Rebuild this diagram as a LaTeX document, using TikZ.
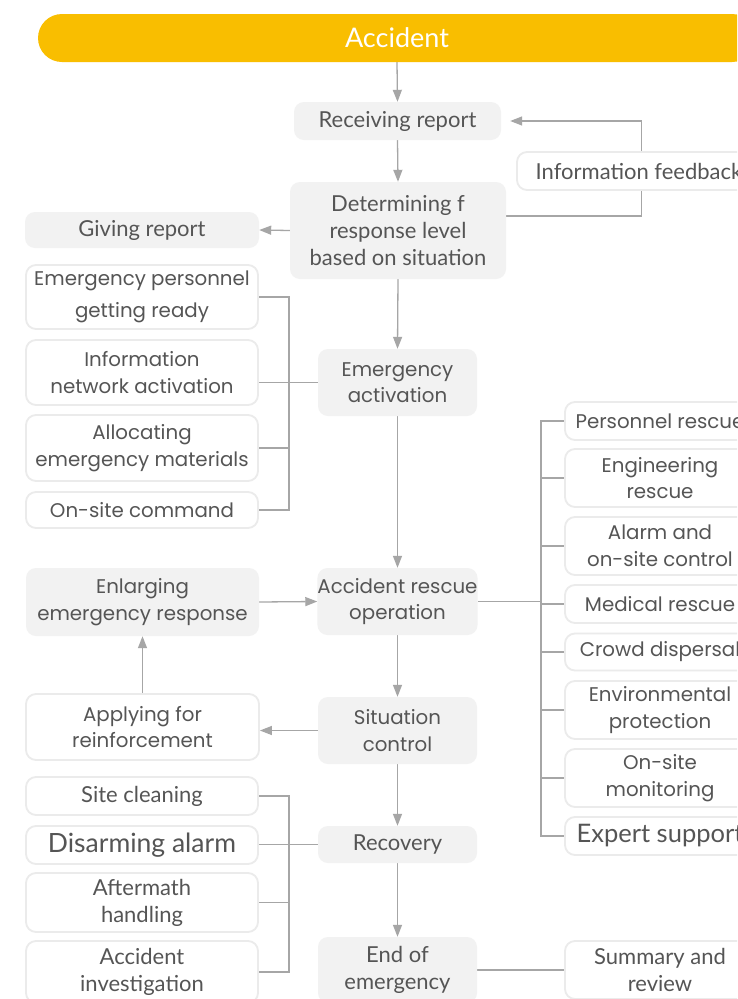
\documentclass[tikz,border=0pt]{standalone}
\usepackage{fontspec}
\usetikzlibrary{arrows.meta,calc}
\newfontfamily\fmont{Poppins}
\newfontfamily\fcond{Lato}
\definecolor{accy}{HTML}{F9BE00}
\definecolor{boxg}{HTML}{F2F2F2}
\definecolor{bord}{HTML}{EBEBEB}
\definecolor{lineg}{HTML}{A6A6A6}
\definecolor{txt}{HTML}{555555}
\pgfdeclarelayer{bottom}
\pgfdeclarelayer{bg}
\pgfsetlayers{bottom,bg,main}
\tikzset{
  gbox/.style={fill=boxg, draw=none, rounded corners=10pt, text=txt, inner sep=0pt, align=center},
  wbox/.style={fill=white, draw=bord, line width=1.8pt, rounded corners=10pt, text=txt, inner sep=0pt, align=center},
  fm/.style={font=\fmont\fontsize{19.8}{26.5}\selectfont},
  fc/.style={font=\fcond\fontsize{22}{27}\selectfont},
  arr/.style={draw=lineg, line width=1.3pt, -{Triangle[length=12pt,width=9pt]}},
  ln/.style={draw=lineg, line width=1.3pt},
}
\begin{document}
\begin{tikzpicture}[x=1pt,y=-1pt]
\useasboundingbox (0,0) rectangle (737,999);
\begin{pgfonlayer}{bottom}
\fill[white] (0,0) rectangle (737,999);
\end{pgfonlayer}
\clip (0,0) rectangle (737,999);
% header
\node[fill=accy, rounded corners=24pt, minimum width=718pt, minimum height=48pt, inner sep=0pt, text=white, font=\fcond\fontsize{27}{27}\selectfont] (acc) at (397,38) {Accident};
% main column
\node[gbox, fc, minimum width=207pt, minimum height=38pt] (recv) at (397.5,121) {Receiving report};
\node[wbox, fc, minimum width=244pt, minimum height=38pt] (info) at (639,171) {Information feedback};
\node[gbox, fc, minimum width=216pt, minimum height=97pt] (det) at (398,230.5) {Determining f\\response level\\based on situation};
\node[gbox, fc, minimum width=234pt, minimum height=36pt] (giv) at (142,230) {Giving report};
\node[gbox, fm, minimum width=159pt, minimum height=67pt] (emact) at (397.5,382.5) {Emergency\\activation};
\node[wbox, fm, minimum width=232pt, minimum height=64pt, font=\fmont\fontsize{19.8}{32}\selectfont] (l1) at (142,297) {Emergency personnel\\getting ready};
\node[wbox, fm, minimum width=232pt, minimum height=65pt] (l2) at (142,372.5) {Information\\network activation};
\node[wbox, fm, minimum width=232pt, minimum height=66pt] (l3) at (142,448) {Allocating\\emergency materials};
\node[wbox, fm, minimum width=232pt, minimum height=36pt] (l4) at (142,510) {On-site command};
\node[gbox, fm, minimum width=159pt, minimum height=67pt] (resc) at (397.5,601.5) {Accident rescue\\operation};
\node[gbox, fm, minimum width=233pt, minimum height=68pt] (enl) at (142.5,602) {Enlarging\\emergency response};
\node[wbox, fm, minimum width=233pt, minimum height=66pt] (app) at (142.5,727) {Applying for\\reinforcement};
\node[gbox, fm, minimum width=159pt, minimum height=67pt] (sit) at (397.5,730.5) {Situation\\control};
% right column
\node[wbox, fm, minimum width=190pt, minimum height=38pt] (r1) at (660,421) {Personnel rescue};
\node[wbox, fm, minimum width=190pt, minimum height=58pt] (r2) at (660,478) {Engineering\\rescue};
\node[wbox, fm, minimum width=190pt, minimum height=58pt] (r3) at (660,546) {Alarm and\\on-site control};
\node[wbox, fm, minimum width=190pt, minimum height=38pt] (r4) at (660,604) {Medical rescue};
\node[wbox, fm, minimum width=190pt, minimum height=37pt] (r5) at (660,652) {Crowd dispersal};
\node[wbox, fm, minimum width=190pt, minimum height=58pt] (r6) at (660,710) {Environmental\\protection};
\node[wbox, fm, minimum width=190pt, minimum height=58pt] (r7) at (660,778) {On-site\\monitoring};
\node[wbox, fc, minimum width=190pt, minimum height=38pt, font=\fcond\fontsize{25.5}{27}\selectfont] (r8) at (660,836) {Expert support};
% bottom
\node[gbox, fc, minimum width=159pt, minimum height=37pt] (recov) at (397.5,844.5) {Recovery};
\node[wbox, fc, minimum width=232pt, minimum height=38pt] (b1) at (142,796) {Site cleaning};
\node[wbox, fc, minimum width=232pt, minimum height=38pt, font=\fcond\fontsize{26.5}{27}\selectfont] (b2) at (142,845) {Disarming alarm};
\node[wbox, fc, minimum width=232pt, minimum height=59pt] (b3) at (142,902.5) {Aftermath\\handling};
\node[wbox, fc, minimum width=232pt, minimum height=62pt] (b4) at (142,972) {Accident\\investigation};
\node[gbox, fc, minimum width=159pt, minimum height=66pt] (endn) at (397.5,970) {End of\\emergency};
\node[wbox, fc, minimum width=190pt, minimum height=58pt] (summ) at (660,970) {Summary and\\review};
\coordinate (bxl) at (289,0);
\coordinate (bxr) at (541,0);
\begin{pgfonlayer}{bg}
\draw[arr] (acc.south) -- (recv.north);
\draw[arr] (recv.south) -- (det.north);
\draw[arr] (det.west) -- (giv.east);
\draw[arr, shorten >=9pt] ([yshift=14.5pt]det.east) -- ++(135,0) |- (recv.east);
\draw[arr] (det.south) -- (emact.north);
\draw[ln] (l1.east) -- (l1.east -| bxl) -- (l4.east -| bxl) -- (l4.east);
\draw[ln] (l3.east) -- (l3.east -| bxl);
\draw[ln] (emact.west) -- (emact.west -| l2.east);
\draw[arr] (emact.south) -- (resc.north);
\draw[arr] (enl.east) -- (resc.west);
\draw[arr] (resc.south) -- (sit.north);
\draw[arr] (sit.west) -- (sit.west -| app.east);
\draw[arr] (app.north) -- (enl.south);
\draw[ln] (r1.west) -- (r1.west -| bxr) -- (r8.west -| bxr) -- (r8.west);
\foreach \n in {r2,r3,r4,r5,r6,r7} \draw[ln] (\n.west) -- (\n.west -| bxr);
\draw[ln] (resc.east) -- (resc.east -| bxr);
\draw[arr] (sit.south) -- (recov.north);
\draw[ln] (b1.east) -- (b1.east -| bxl) -- (b4.east -| bxl) -- (b4.east);
\draw[ln] (b3.east) -- (b3.east -| bxl);
\draw[ln] (recov.west) -- (recov.west -| b2.east);
\draw[arr] (recov.south) -- (endn.north);
\draw[ln] (endn.east) -- (summ.west);
\end{pgfonlayer}
\end{tikzpicture}
\end{document}
